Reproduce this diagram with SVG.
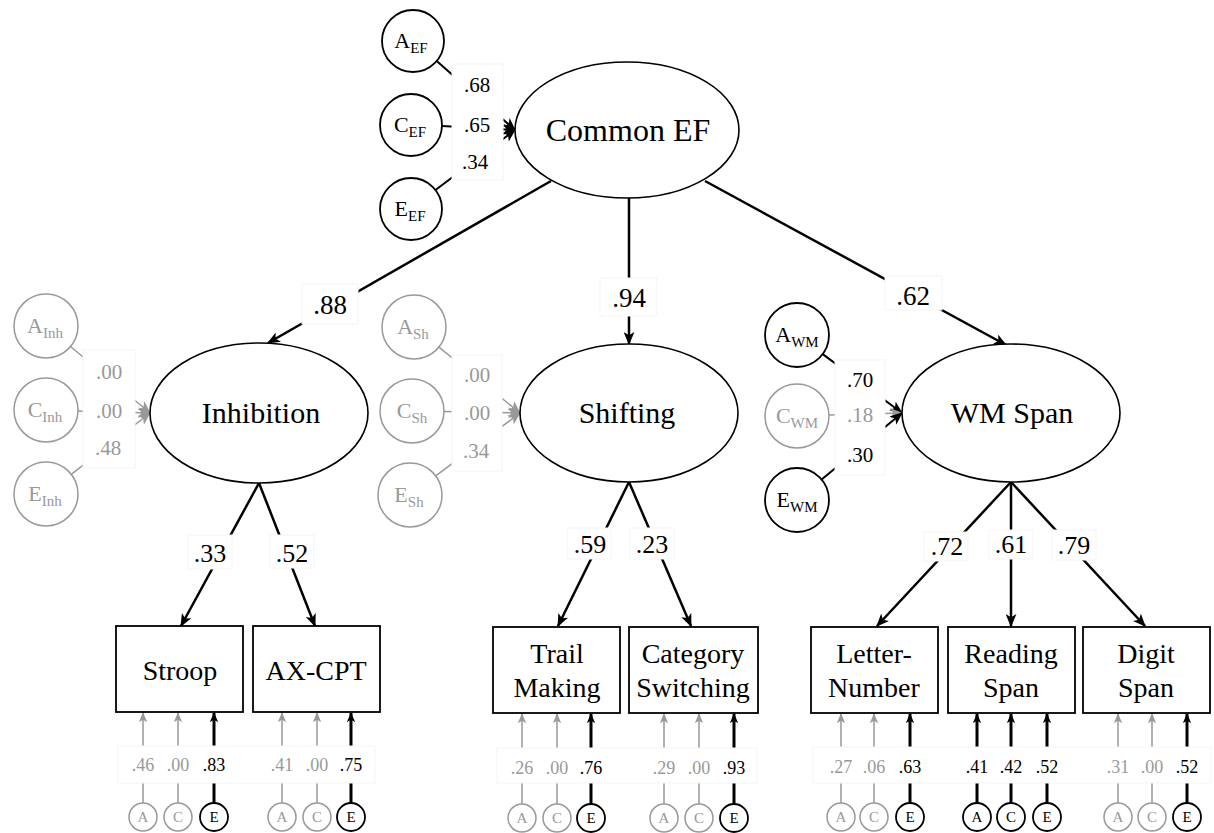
<svg xmlns="http://www.w3.org/2000/svg" width="1214" height="833" viewBox="0 0 1214 833" font-family="Liberation Serif, serif">
  <style>
    text { fill: #000; text-anchor: middle; }
    .lat { fill: #fff; stroke: #000; stroke-width: 1.6; }
    .box { fill: #fff; stroke: #000; stroke-width: 1.8; }
    .ace { fill: #fff; stroke: #000; stroke-width: 1.8; }
    .ace.g { stroke: #999; stroke-width: 1.5; }
    .t32 { font-size: 32px; }
    .t30 { font-size: 30px; }
    .t28 { font-size: 28px; }
    .t27 { font-size: 27px; }
    .t26 { font-size: 26px; }
    .t21 { font-size: 21px; }
    .t22 { font-size: 22px; }
    .t18 { font-size: 18px; }
    .t15 { font-size: 15px; }
    .sub { font-size: 15px; }
    .gt { fill: #999; }
    .path { stroke: #000; stroke-width: 2.5; fill: none; marker-end: url(#ah); }
    .vk { stroke: #000; stroke-width: 2; fill: none; marker-end: url(#ah); }
    .vg { stroke: #999; stroke-width: 1.5; fill: none; marker-end: url(#ahg); }
    .rk { stroke: #000; stroke-width: 3; fill: none; marker-end: url(#ahs); }
    .rg { stroke: #999; stroke-width: 1.5; fill: none; marker-end: url(#ahsg); }
    .rkl { stroke: #000; stroke-width: 3; }
    .rgl { stroke: #999; stroke-width: 1.5; }
    .lb { fill: #fff; stroke: #f5f5f5; stroke-width: 1; }
  </style>
  <defs>
    <marker id="ah" viewBox="0 0 12 10" refX="11" refY="5" markerWidth="13" markerHeight="11" markerUnits="userSpaceOnUse" orient="auto">
      <path d="M0,0 L12,5 L0,10 L3,5 z" fill="#000"/>
    </marker>
    <marker id="ahg" viewBox="0 0 12 10" refX="11" refY="5" markerWidth="13" markerHeight="11" markerUnits="userSpaceOnUse" orient="auto">
      <path d="M0,0 L12,5 L0,10 L3,5 z" fill="#999"/>
    </marker>
    <marker id="ahs" viewBox="0 0 12 10" refX="11" refY="5" markerWidth="10" markerHeight="9" markerUnits="userSpaceOnUse" orient="auto">
      <path d="M0,0 L12,5 L0,10 L3,5 z" fill="#000"/>
    </marker>
    <marker id="ahsg" viewBox="0 0 12 10" refX="11" refY="5" markerWidth="10" markerHeight="9" markerUnits="userSpaceOnUse" orient="auto">
      <path d="M0,0 L12,5 L0,10 L3,5 z" fill="#999"/>
    </marker>
  </defs>

  <rect width="1214" height="833" fill="#fff"/>

  <!-- paths, variance components and their labels -->
  <g id="connectors">
    <!-- Common EF to first-order factors -->
    <line class="path" x1="551" y1="181" x2="268" y2="343"/>
    <line class="path" x1="629" y1="198" x2="629" y2="344"/>
    <line class="path" x1="705" y1="181" x2="1006" y2="345"/>
    <rect class="lb" x="302" y="284" width="56" height="40"/>
    <text class="t27" x="330" y="314">.88</text>
    <rect class="lb" x="600" y="278" width="57" height="38"/>
    <text class="t27" x="629" y="307">.94</text>
    <rect class="lb" x="885" y="276" width="57" height="34"/>
    <text class="t27" x="913" y="305">.62</text>

    <!-- Common EF ACE -->
    <line class="vk" x1="436.7" y1="61" x2="515" y2="130"/>
    <line class="vk" x1="442" y1="126" x2="515" y2="130"/>
    <line class="vk" x1="435.5" y1="190" x2="515" y2="130"/>
    <rect class="lb" x="452" y="64" width="51" height="116"/>
    <text class="t21" x="477" y="92">.68</text>
    <text class="t21" x="477" y="132">.65</text>
    <text class="t21" x="475" y="169">.34</text>

    <!-- Inhibition ACE -->
    <line class="vg" x1="70.5" y1="346.5" x2="150" y2="413"/>
    <line class="vg" x1="78" y1="411" x2="150" y2="413"/>
    <line class="vg" x1="71.3" y1="474.3" x2="150" y2="413"/>
    <rect class="lb" x="83" y="350" width="52" height="118"/>
    <text class="t21 gt" x="109" y="379">.00</text>
    <text class="t21 gt" x="109" y="418">.00</text>
    <text class="t21 gt" x="108" y="455">.48</text>

    <!-- Shifting ACE -->
    <line class="vg" x1="438.9" y1="347.2" x2="520" y2="413"/>
    <line class="vg" x1="444" y1="411.6" x2="520" y2="413"/>
    <line class="vg" x1="435.7" y1="475.9" x2="520" y2="413"/>
    <rect class="lb" x="452" y="355" width="50" height="116"/>
    <text class="t21 gt" x="477" y="382">.00</text>
    <text class="t21 gt" x="477" y="420">.00</text>
    <text class="t21 gt" x="476" y="458">.34</text>

    <!-- WM Span ACE -->
    <line class="vk" x1="822.7" y1="354.1" x2="902" y2="413"/>
    <line class="vg" x1="829" y1="415" x2="902" y2="413"/>
    <line class="vk" x1="821.6" y1="479.6" x2="902" y2="413"/>
    <rect class="lb" x="835" y="360" width="50" height="115"/>
    <text class="t21" x="860" y="387">.70</text>
    <text class="t21 gt" x="860" y="422">.18</text>
    <text class="t21" x="860" y="462">.30</text>

    <!-- factor loadings -->
    <line class="path" x1="259" y1="483" x2="181" y2="626"/>
    <line class="path" x1="259" y1="483" x2="315" y2="626"/>
    <rect class="lb" x="188" y="535" width="44" height="34"/>
    <text class="t26" x="210" y="562">.33</text>
    <rect class="lb" x="270" y="535" width="44" height="33"/>
    <text class="t26" x="292" y="562">.52</text>

    <line class="path" x1="629" y1="482" x2="558" y2="626"/>
    <line class="path" x1="629" y1="482" x2="691" y2="626"/>
    <rect class="lb" x="567" y="528" width="44" height="31"/>
    <text class="t26" x="590" y="553">.59</text>
    <rect class="lb" x="630" y="528" width="44" height="31"/>
    <text class="t26" x="652" y="553">.23</text>

    <line class="path" x1="1011" y1="482" x2="877" y2="626"/>
    <line class="path" x1="1011" y1="482" x2="1011" y2="626"/>
    <line class="path" x1="1011" y1="482" x2="1145" y2="626"/>
    <rect class="lb" x="924" y="532" width="44" height="29"/>
    <text class="t26" x="947" y="555">.72</text>
    <rect class="lb" x="989" y="530" width="44" height="29"/>
    <text class="t26" x="1011" y="553">.61</text>
    <rect class="lb" x="1052" y="530" width="44" height="30"/>
    <text class="t26" x="1074" y="554">.79</text>

    <!-- indicator ACE: Stroop / AX-CPT -->
    <line class="rgl" x1="143" y1="783" x2="143" y2="803"/>
    <line class="rgl" x1="178" y1="783" x2="178" y2="803"/>
    <line class="rkl" x1="214" y1="783" x2="214" y2="803"/>
    <line class="rgl" x1="282" y1="783" x2="282" y2="803"/>
    <line class="rgl" x1="317" y1="783" x2="317" y2="803"/>
    <line class="rkl" x1="351" y1="783" x2="351" y2="803"/>
    <line class="rg" x1="143" y1="746" x2="143" y2="713"/>
    <line class="rg" x1="178" y1="746" x2="178" y2="713"/>
    <line class="rk" x1="214" y1="746" x2="214" y2="713"/>
    <line class="rg" x1="282" y1="746" x2="282" y2="713"/>
    <line class="rg" x1="317" y1="746" x2="317" y2="713"/>
    <line class="rk" x1="351" y1="746" x2="351" y2="713"/>
    <rect class="lb" x="118" y="746" width="257" height="37"/>
    <text class="t18 gt" x="143" y="771">.46</text>
    <text class="t18 gt" x="178" y="771">.00</text>
    <text class="t18" x="214" y="771">.83</text>
    <text class="t18 gt" x="282" y="771">.41</text>
    <text class="t18 gt" x="317" y="771">.00</text>
    <text class="t18" x="351" y="771">.75</text>

    <!-- indicator ACE: Trail Making / Category Switching -->
    <line class="rgl" x1="522" y1="783" x2="522" y2="804"/>
    <line class="rgl" x1="557" y1="783" x2="557" y2="804"/>
    <line class="rkl" x1="591" y1="783" x2="591" y2="804"/>
    <line class="rgl" x1="664" y1="783" x2="664" y2="804"/>
    <line class="rgl" x1="699" y1="783" x2="699" y2="804"/>
    <line class="rkl" x1="734" y1="783" x2="734" y2="804"/>
    <line class="rg" x1="522" y1="748" x2="522" y2="714"/>
    <line class="rg" x1="557" y1="748" x2="557" y2="714"/>
    <line class="rk" x1="591" y1="748" x2="591" y2="714"/>
    <line class="rg" x1="664" y1="748" x2="664" y2="714"/>
    <line class="rg" x1="699" y1="748" x2="699" y2="714"/>
    <line class="rk" x1="734" y1="748" x2="734" y2="714"/>
    <rect class="lb" x="497" y="748" width="260" height="35"/>
    <text class="t18 gt" x="522" y="774">.26</text>
    <text class="t18 gt" x="557" y="774">.00</text>
    <text class="t18" x="591" y="774">.76</text>
    <text class="t18 gt" x="664" y="774">.29</text>
    <text class="t18 gt" x="699" y="774">.00</text>
    <text class="t18" x="734" y="774">.93</text>

    <!-- indicator ACE: Letter-Number / Reading Span / Digit Span -->
    <line class="rgl" x1="841" y1="783" x2="841" y2="803"/>
    <line class="rgl" x1="874" y1="783" x2="874" y2="803"/>
    <line class="rkl" x1="910" y1="783" x2="910" y2="803"/>
    <line class="rkl" x1="977" y1="783" x2="977" y2="803"/>
    <line class="rkl" x1="1011" y1="783" x2="1011" y2="803"/>
    <line class="rkl" x1="1047" y1="783" x2="1047" y2="803"/>
    <line class="rgl" x1="1118" y1="783" x2="1118" y2="803"/>
    <line class="rgl" x1="1152" y1="783" x2="1152" y2="803"/>
    <line class="rkl" x1="1187" y1="783" x2="1187" y2="803"/>
    <line class="rg" x1="841" y1="747" x2="841" y2="714"/>
    <line class="rg" x1="874" y1="747" x2="874" y2="714"/>
    <line class="rk" x1="910" y1="747" x2="910" y2="714"/>
    <line class="rk" x1="977" y1="747" x2="977" y2="714"/>
    <line class="rk" x1="1011" y1="747" x2="1011" y2="714"/>
    <line class="rk" x1="1047" y1="747" x2="1047" y2="714"/>
    <line class="rg" x1="1118" y1="747" x2="1118" y2="714"/>
    <line class="rg" x1="1152" y1="747" x2="1152" y2="714"/>
    <line class="rk" x1="1187" y1="747" x2="1187" y2="714"/>
    <rect class="lb" x="813" y="747" width="398" height="36"/>
    <text class="t18 gt" x="841" y="773">.27</text>
    <text class="t18 gt" x="874" y="773">.06</text>
    <text class="t18" x="910" y="773">.63</text>
    <text class="t18" x="977" y="773">.41</text>
    <text class="t18" x="1011" y="773">.42</text>
    <text class="t18" x="1047" y="773">.52</text>
    <text class="t18 gt" x="1118" y="773">.31</text>
    <text class="t18 gt" x="1152" y="773">.00</text>
    <text class="t18" x="1187" y="773">.52</text>
  </g>

  <!-- latent factors -->
  <g id="common-ef">
    <ellipse class="lat" cx="627" cy="130" rx="112" ry="68"/>
    <text class="t32" x="628" y="141">Common EF</text>
  </g>
  <g id="inhibition">
    <ellipse class="lat" cx="259" cy="413" rx="109" ry="70"/>
    <text class="t30" x="261" y="423">Inhibition</text>
  </g>
  <g id="shifting">
    <ellipse class="lat" cx="629" cy="413" rx="109" ry="69"/>
    <text class="t30" x="627" y="423">Shifting</text>
  </g>
  <g id="wm-span">
    <ellipse class="lat" cx="1011" cy="413" rx="109" ry="69"/>
    <text class="t30" x="1012" y="423">WM Span</text>
  </g>

  <!-- variance components of the latent factors -->
  <g id="a-ef"><circle class="ace" cx="413" cy="41" r="31"/><text class="t22" x="411" y="48">A<tspan class="sub" dy="5">EF</tspan></text></g>
  <g id="c-ef"><circle class="ace" cx="411" cy="125" r="31"/><text class="t22" x="410" y="132">C<tspan class="sub" dy="5">EF</tspan></text></g>
  <g id="e-ef"><circle class="ace" cx="411" cy="209" r="31"/><text class="t22" x="410" y="216">E<tspan class="sub" dy="5">EF</tspan></text></g>

  <g id="a-inh"><circle class="ace g" cx="46" cy="326" r="32"/><text class="t22 gt" x="45" y="333">A<tspan class="sub" dy="5">Inh</tspan></text></g>
  <g id="c-inh"><circle class="ace g" cx="46" cy="410" r="32"/><text class="t22 gt" x="45" y="417">C<tspan class="sub" dy="5">Inh</tspan></text></g>
  <g id="e-inh"><circle class="ace g" cx="46" cy="494" r="32"/><text class="t22 gt" x="45" y="501">E<tspan class="sub" dy="5">Inh</tspan></text></g>

  <g id="a-sh"><circle class="ace g" cx="414" cy="327" r="32"/><text class="t22 gt" x="413" y="334">A<tspan class="sub" dy="5">Sh</tspan></text></g>
  <g id="c-sh"><circle class="ace g" cx="412" cy="411" r="32"/><text class="t22 gt" x="412" y="418">C<tspan class="sub" dy="5">Sh</tspan></text></g>
  <g id="e-sh"><circle class="ace g" cx="410" cy="495" r="32"/><text class="t22 gt" x="409" y="502">E<tspan class="sub" dy="5">Sh</tspan></text></g>

  <g id="a-wm"><circle class="ace" cx="797" cy="335" r="32"/><text class="t22" x="797" y="342">A<tspan class="sub" dy="5">WM</tspan></text></g>
  <g id="c-wm"><circle class="ace g" cx="797" cy="416" r="32"/><text class="t22 gt" x="797" y="423">C<tspan class="sub" dy="5">WM</tspan></text></g>
  <g id="e-wm"><circle class="ace" cx="797" cy="500" r="32"/><text class="t22" x="797" y="507">E<tspan class="sub" dy="5">WM</tspan></text></g>

  <!-- observed measures -->
  <g id="stroop"><rect class="box" x="116" y="626" width="127" height="86"/><text class="t28" x="180" y="680">Stroop</text></g>
  <g id="ax-cpt"><rect class="box" x="253" y="626" width="127" height="86"/><text class="t28" x="316" y="680">AX-CPT</text></g>
  <g id="trail-making"><rect class="box" x="493" y="627" width="127" height="86"/><text class="t28" x="557" y="663">Trail</text><text class="t28" x="557" y="697">Making</text></g>
  <g id="category-switching"><rect class="box" x="629" y="627" width="129" height="86"/><text class="t28" x="693" y="663">Category</text><text class="t28" x="693" y="697">Switching</text></g>
  <g id="letter-number"><rect class="box" x="811" y="627" width="127" height="86"/><text class="t28" x="874" y="663">Letter-</text><text class="t28" x="874" y="697">Number</text></g>
  <g id="reading-span"><rect class="box" x="948" y="627" width="127" height="86"/><text class="t28" x="1011" y="663">Reading</text><text class="t28" x="1011" y="697">Span</text></g>
  <g id="digit-span"><rect class="box" x="1083" y="627" width="127" height="86"/><text class="t28" x="1146" y="663">Digit</text><text class="t28" x="1146" y="697">Span</text></g>

  <!-- variance components of the measures -->
  <g id="stroop-ace">
    <circle class="ace g" cx="143" cy="817" r="14"/><text class="t15 gt" x="143" y="822">A</text>
    <circle class="ace g" cx="178" cy="817" r="14"/><text class="t15 gt" x="178" y="822">C</text>
    <circle class="ace" cx="214" cy="817" r="14"/><text class="t15" x="214" y="822">E</text>
  </g>
  <g id="ax-cpt-ace">
    <circle class="ace g" cx="282" cy="817" r="14"/><text class="t15 gt" x="282" y="822">A</text>
    <circle class="ace g" cx="317" cy="817" r="14"/><text class="t15 gt" x="317" y="822">C</text>
    <circle class="ace" cx="351" cy="817" r="14"/><text class="t15" x="351" y="822">E</text>
  </g>
  <g id="trail-making-ace">
    <circle class="ace g" cx="522" cy="818" r="14"/><text class="t15 gt" x="522" y="823">A</text>
    <circle class="ace g" cx="557" cy="818" r="14"/><text class="t15 gt" x="557" y="823">C</text>
    <circle class="ace" cx="591" cy="818" r="14"/><text class="t15" x="591" y="823">E</text>
  </g>
  <g id="category-switching-ace">
    <circle class="ace g" cx="664" cy="818" r="14"/><text class="t15 gt" x="664" y="823">A</text>
    <circle class="ace g" cx="699" cy="818" r="14"/><text class="t15 gt" x="699" y="823">C</text>
    <circle class="ace" cx="734" cy="818" r="14"/><text class="t15" x="734" y="823">E</text>
  </g>
  <g id="letter-number-ace">
    <circle class="ace g" cx="841" cy="817" r="14"/><text class="t15 gt" x="841" y="822">A</text>
    <circle class="ace g" cx="874" cy="817" r="14"/><text class="t15 gt" x="874" y="822">C</text>
    <circle class="ace" cx="910" cy="817" r="14"/><text class="t15" x="910" y="822">E</text>
  </g>
  <g id="reading-span-ace">
    <circle class="ace" cx="977" cy="817" r="14"/><text class="t15" x="977" y="822">A</text>
    <circle class="ace" cx="1011" cy="817" r="14"/><text class="t15" x="1011" y="822">C</text>
    <circle class="ace" cx="1047" cy="817" r="14"/><text class="t15" x="1047" y="822">E</text>
  </g>
  <g id="digit-span-ace">
    <circle class="ace g" cx="1118" cy="817" r="14"/><text class="t15 gt" x="1118" y="822">A</text>
    <circle class="ace g" cx="1152" cy="817" r="14"/><text class="t15 gt" x="1152" y="822">C</text>
    <circle class="ace" cx="1187" cy="817" r="14"/><text class="t15" x="1187" y="822">E</text>
  </g>
</svg>
